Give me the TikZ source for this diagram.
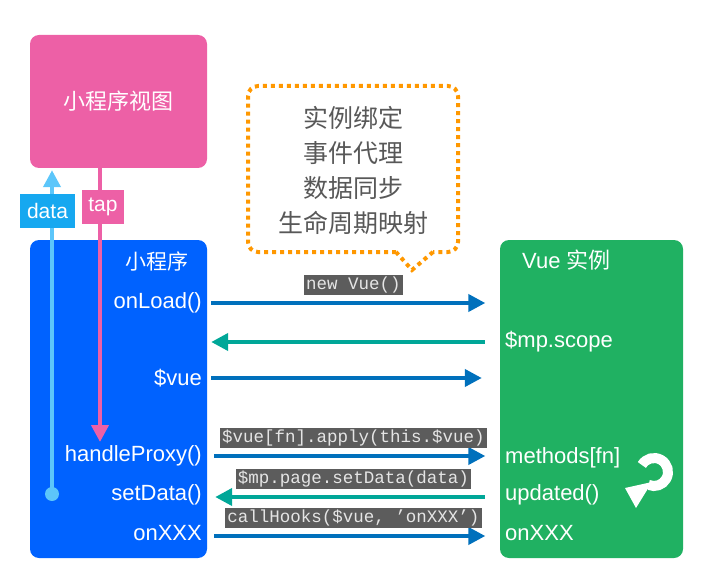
\documentclass[tikz,border=0pt]{standalone}
\usepackage{fontspec}
\setmainfont{Liberation Sans}
\setmonofont{Liberation Mono}
\newfontfamily\cjk{Noto Sans CJK SC}
\usetikzlibrary{arrows.meta}

\definecolor{viewpink}{RGB}{237,96,166}
\definecolor{appblue}{RGB}{0,98,255}
\definecolor{vuegreen}{RGB}{32,177,98}
\definecolor{datablue}{RGB}{92,198,250}
\definecolor{datalabel}{RGB}{22,168,240}
\definecolor{callblue}{RGB}{0,112,188}
\definecolor{backteal}{RGB}{0,167,152}
\definecolor{noteorange}{RGB}{255,152,0}
\definecolor{codegray}{RGB}{92,92,92}
\definecolor{notegray}{RGB}{88,88,88}

\tikzset{
  panel/.style={fill=#1, rounded corners=9pt, inner sep=0pt},
  lbl/.style={text=white, font=\fontsize{22}{25}\selectfont, inner sep=0pt},
  tag/.style={fill=#1, text=white, font=\fontsize{21}{24}\selectfont, inner sep=0pt},
  code/.style={fill=codegray, text=white!90!black, font=\ttfamily\fontsize{17.5}{19}\selectfont,
    text height=12pt, text depth=4pt, inner sep=2pt},
  fwd/.style={draw=callblue, line width=4pt, -{Triangle[length=17pt,width=17pt]},
    shorten <=4pt, shorten >=14.5pt},
  bwd/.style={draw=backteal, line width=4pt, -{Triangle[length=17pt,width=17pt]},
    shorten <=15pt, shorten >=4pt},
}

\begin{document}
\begin{tikzpicture}[x=1pt,y=-1pt]
    \useasboundingbox (0,0) rectangle (704,580);

    % Draw the three panels
    \node[panel=viewpink, minimum width=177pt, minimum height=133pt, text=white,
      font=\cjk\fontsize{22}{25}\selectfont] (view) at (118.5,101.5) {小程序视图};
    \node[panel=appblue, minimum width=177pt, minimum height=318pt] (app) at (118.5,399) {};
    \node[panel=vuegreen, minimum width=183pt, minimum height=318pt] (vue) at (591.5,399) {};

    % Labels inside the mini program panel
    \node[lbl, font=\cjk\fontsize{21}{24}\selectfont] (apptitle) at (157,261) {小程序};
    \node[lbl, anchor=east] (onload) at (202,303) {onLoad()};
    \node[lbl, anchor=east] (vueref) at (202,378) {\$vue};
    \node[lbl, anchor=east] (proxy) at (202,456) {handleProxy()};
    \node[lbl, anchor=east] (setdata) at (202,495) {setData()};
    \node[lbl, anchor=east] (onxxx) at (202,533) {onXXX};

    % Labels inside the Vue panel
    \node[lbl, anchor=west] (vuetitle) at (522,260) {Vue {\cjk 实例}};
    \node[lbl, anchor=west] (scope) at (505,342) {\$mp.scope};
    \node[lbl, anchor=west] (methods) at (505,458) {methods[fn]};
    \node[lbl, anchor=west] (updated) at (505,495) {updated()};
    \node[lbl, anchor=west] (hook) at (505,533) {onXXX};

    % data goes up to the view, tap comes down to handleProxy
    \node[circle, fill=datablue, minimum size=14pt, inner sep=0pt] (datadot) at (52,494) {};
    \draw[datablue, line width=4pt, -{Triangle[length=17pt,width=17pt]}, shorten >=2pt]
      (datadot.center) -- (view.south -| datadot);
    \node[tag=datalabel, minimum width=55pt, minimum height=34pt] (datatag) at (47.5,211) {data};

    \coordinate (tapend) at (100,442);
    \draw[viewpink, line width=4pt, -{Triangle[length=17pt,width=17pt]}]
      (view.south -| tapend) -- (tapend);
    \node[tag=viewpink, minimum width=42pt, minimum height=34pt] (taptag) at (103,207) {tap};

    % Calls between the two panels
    \draw[fwd] (app.east |- onload) -- (vue.west |- onload)
      node[code, midway, above=6pt] (newvue) {new Vue()};
    \draw[bwd] (vue.west |- scope) -- (app.east |- scope);
    \draw[fwd, shorten >=18pt] (app.east |- vueref) -- (vue.west |- vueref);
    \draw[fwd, shorten <=7pt] (app.east |- proxy) -- (vue.west |- proxy)
      node[code, midway, above=6pt] (apply) {\$vue[fn].apply(this.\$vue)};
    \draw[bwd, shorten >=8pt] (vue.west |- 0,497) -- (app.east |- 0,497)
      node[code, midway, above=6pt] (setcall) {\$mp.page.setData(data)};
    \draw[fwd, shorten <=7pt] (app.east |- 0,536) -- (vue.west |- 0,536)
      node[code, midway, above=6pt] (hookcall) {callHooks(\$vue, ’onXXX’)};

    % Update loop icon
    \draw[white, line width=10pt] (654,472) ++(-150:14) arc[start angle=-150, end angle=112, radius=14];
    \fill[white] (625,488) -- (652,482) -- (636,508) -- cycle;

    % Dotted callout
    \draw[noteorange, line width=4pt, dash pattern=on 4pt off 4pt, rounded corners=10pt]
      (396,252) -- (248,252) -- (248,86) -- (458,86) -- (458,252) -- (433,252);
    \draw[noteorange, line width=4pt, dash pattern=on 4pt off 4pt]
      (433,252) -- (412,270) -- (396,252);
    \node[text=notegray, align=center, font=\cjk\fontsize{25}{35}\selectfont] (note) at (353,170)
      {实例绑定\\事件代理\\数据同步\\生命周期映射};
\end{tikzpicture}
\end{document}
